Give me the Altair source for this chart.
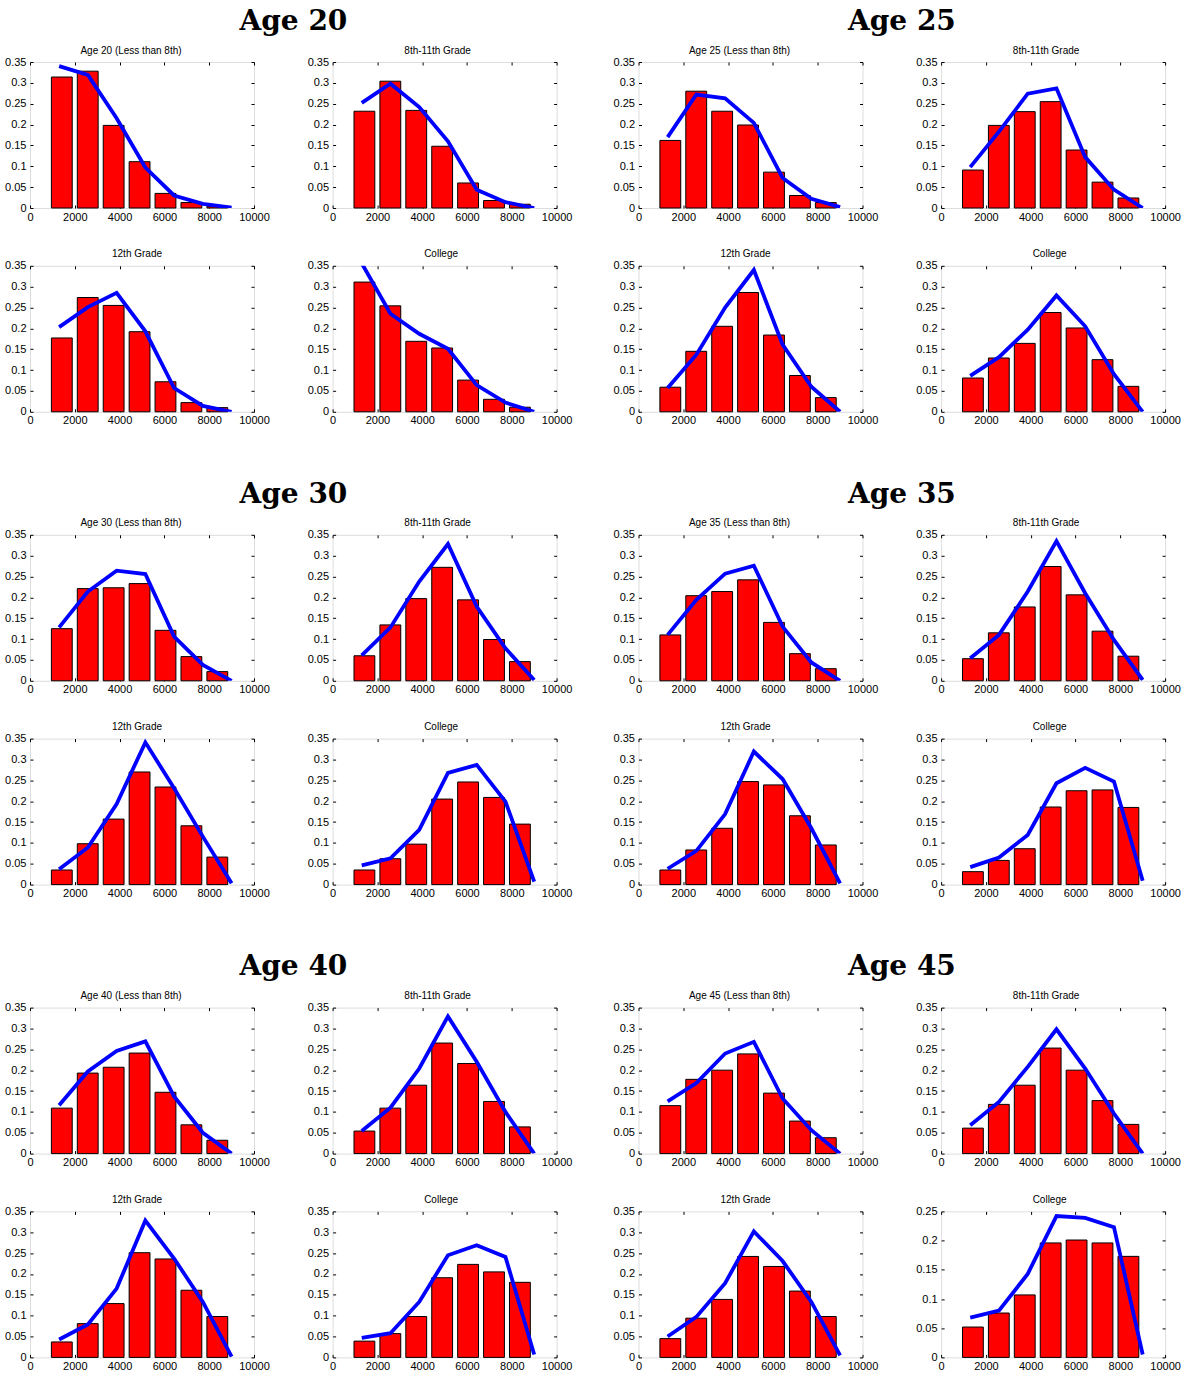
import altair as alt
import pandas as pd

# ---------------- data ----------------
bin_centers = [1420, 2577, 3734, 4891, 6048, 7205, 8362]
line_x = [1300, 2583, 3867, 5150, 6433, 7717, 9000]
x_ticks = [0, 2000, 4000, 6000, 8000, 10000]
y_ticks_main = [0, 0.05, 0.1, 0.15, 0.2, 0.25, 0.3, 0.35]
y_ticks_small = [0, 0.05, 0.1, 0.15, 0.2, 0.25]

ages = [20, 25, 30, 35, 40, 45]
edu_keys = ["lt8", "g811", "g12", "col"]
edu_titles = ["(Less than 8th)", "8th-11th Grade", "12th Grade", "College"]

bars_20_lt8 = [0.314, 0.328, 0.198, 0.111, 0.035, 0.013, 0.004]
line_20_lt8 = [0.340, 0.319, 0.215, 0.097, 0.030, 0.010, 0.001]
bars_20_g811 = [0.232, 0.304, 0.234, 0.148, 0.060, 0.018, 0.009]
line_20_g811 = [0.252, 0.298, 0.242, 0.160, 0.044, 0.014, 0.000]
bars_20_g12 = [0.177, 0.274, 0.255, 0.192, 0.072, 0.022, 0.010]
line_20_g12 = [0.203, 0.251, 0.285, 0.193, 0.057, 0.014, 0.000]
bars_20_col = [0.311, 0.254, 0.169, 0.153, 0.076, 0.030, 0.011]
line_20_col = [0.356, 0.235, 0.187, 0.151, 0.064, 0.022, 0.000]

bars_25_lt8 = [0.162, 0.280, 0.232, 0.199, 0.086, 0.030, 0.013]
line_25_lt8 = [0.170, 0.272, 0.263, 0.204, 0.072, 0.022, 0.002]
bars_25_g811 = [0.091, 0.198, 0.231, 0.255, 0.139, 0.062, 0.024]
line_25_g811 = [0.098, 0.183, 0.274, 0.287, 0.122, 0.044, 0.000]
bars_25_g12 = [0.059, 0.145, 0.205, 0.286, 0.184, 0.087, 0.034]
line_25_g12 = [0.057, 0.137, 0.250, 0.340, 0.161, 0.060, 0.000]
bars_25_col = [0.081, 0.129, 0.164, 0.238, 0.201, 0.125, 0.061]
line_25_col = [0.086, 0.131, 0.197, 0.279, 0.205, 0.090, 0.000]

bars_30_lt8 = [0.125, 0.221, 0.223, 0.233, 0.121, 0.058, 0.022]
line_30_lt8 = [0.128, 0.214, 0.264, 0.256, 0.106, 0.038, 0.000]
bars_30_g811 = [0.060, 0.134, 0.197, 0.272, 0.194, 0.099, 0.046]
line_30_g811 = [0.061, 0.128, 0.238, 0.328, 0.178, 0.078, 0.002]
bars_30_g12 = [0.035, 0.098, 0.157, 0.270, 0.234, 0.141, 0.066]
line_30_g12 = [0.037, 0.089, 0.193, 0.341, 0.231, 0.115, 0.003]
bars_30_col = [0.035, 0.062, 0.097, 0.205, 0.246, 0.209, 0.145]
line_30_col = [0.046, 0.063, 0.131, 0.268, 0.287, 0.199, 0.007]

bars_35_lt8 = [0.110, 0.204, 0.214, 0.242, 0.140, 0.065, 0.029]
line_35_lt8 = [0.110, 0.194, 0.257, 0.276, 0.130, 0.044, 0.000]
bars_35_g811 = [0.053, 0.115, 0.177, 0.274, 0.206, 0.119, 0.059]
line_35_g811 = [0.054, 0.110, 0.214, 0.335, 0.210, 0.098, 0.002]
bars_35_g12 = [0.035, 0.083, 0.135, 0.247, 0.239, 0.165, 0.095]
line_35_g12 = [0.038, 0.081, 0.169, 0.319, 0.253, 0.135, 0.003]
bars_35_col = [0.031, 0.058, 0.086, 0.186, 0.225, 0.227, 0.185]
line_35_col = [0.042, 0.065, 0.119, 0.243, 0.280, 0.247, 0.009]

bars_40_lt8 = [0.109, 0.193, 0.207, 0.241, 0.147, 0.069, 0.032]
line_40_lt8 = [0.116, 0.197, 0.246, 0.269, 0.137, 0.050, 0.000]
bars_40_g811 = [0.054, 0.109, 0.164, 0.265, 0.216, 0.125, 0.064]
line_40_g811 = [0.054, 0.110, 0.204, 0.329, 0.220, 0.100, 0.000]
bars_40_g12 = [0.037, 0.081, 0.129, 0.251, 0.236, 0.161, 0.098]
line_40_g12 = [0.043, 0.079, 0.165, 0.328, 0.237, 0.133, 0.002]
bars_40_col = [0.039, 0.057, 0.098, 0.191, 0.223, 0.205, 0.180]
line_40_col = [0.047, 0.058, 0.133, 0.245, 0.269, 0.241, 0.007]

bars_45_lt8 = [0.115, 0.178, 0.200, 0.239, 0.145, 0.078, 0.038]
line_45_lt8 = [0.125, 0.169, 0.240, 0.268, 0.132, 0.056, 0.000]
bars_45_g811 = [0.061, 0.118, 0.164, 0.253, 0.200, 0.127, 0.070]
line_45_g811 = [0.068, 0.124, 0.208, 0.298, 0.204, 0.096, 0.000]
bars_45_g12 = [0.045, 0.094, 0.139, 0.242, 0.218, 0.159, 0.098]
line_45_g12 = [0.050, 0.097, 0.178, 0.302, 0.231, 0.133, 0.005]
bars_45_col = [0.052, 0.076, 0.107, 0.196, 0.201, 0.196, 0.173]
line_45_col = [0.068, 0.080, 0.143, 0.242, 0.239, 0.223, 0.005]

# ---------------- styling ----------------
FONT = "Liberation Sans"
W, H = 224, 146
BAR_HALF = 465


def panel(title, bars, line, ticks):
    ymax = ticks[-1]
    bdf = pd.DataFrame({
        "lo": [c - BAR_HALF for c in bin_centers],
        "hi": [c + BAR_HALF for c in bin_centers],
        "share": bars,
    })
    ldf = pd.DataFrame({"income": line_x, "share": line})
    xs = alt.Scale(domain=[0, 10000], nice=False, zero=False)
    ys = alt.Scale(domain=[0, ymax], nice=False)
    common = dict(domain=False, grid=False, ticks=True, tickSize=3, tickColor="black",
                  tickWidth=1, offset=-3, title=None, labelFont=FONT, labelFontSize=11,
                  labelColor="black", labelFlush=False, labelOverlap=False)
    bar = alt.Chart(bdf).mark_bar(color="#ff0000", stroke="black", strokeWidth=1).encode(
        x=alt.X("lo:Q", scale=xs,
                axis=alt.Axis(orient="bottom", values=x_ticks, format="d", labelPadding=3,
                              minExtent=0, **common)),
        x2="hi:Q",
        y=alt.Y("share:Q", scale=ys,
                axis=alt.Axis(orient="left", values=ticks, format="~g", labelPadding=4,
                              minExtent=30, maxExtent=30, **common)),
        y2=alt.datum(0),
    )
    ln = alt.Chart(ldf).mark_line(color="#0000ff", strokeWidth=3.8, clip=True).encode(
        x=alt.X("income:Q", scale=xs,
                axis=alt.Axis(orient="top", values=x_ticks, labels=False, minExtent=0,
                              maxExtent=0, **common)),
        y=alt.Y("share:Q", scale=ys,
                axis=alt.Axis(orient="right", values=ticks, labels=False, minExtent=0,
                              maxExtent=0, **common)),
    )
    return alt.layer(bar, ln, title=alt.TitleParams(
        text=title, font=FONT, fontSize=10, fontWeight="normal", color="black",
        anchor="middle", frame="group", baseline="alphabetic", offset=-7.6,
        dx=-0.5 * len(title),
    )).resolve_axis(x="independent", y="independent").properties(width=W, height=H)


def block(age):
    ps = []
    for i, key in enumerate(edu_keys):
        bars = globals()[f"bars_{age}_{key}"]
        line = globals()[f"line_{age}_{key}"]
        t = f"Age {age} {edu_titles[i]}" if i == 0 else edu_titles[i]
        ticks = y_ticks_small if (age == 45 and key == "col") else y_ticks_main
        ps.append(panel(t, bars, line, ticks))
    r1 = alt.hconcat(ps[0], ps[1], spacing=34.6)
    r2 = alt.hconcat(ps[2], ps[3], spacing=34.6)
    return alt.vconcat(r1, r2, spacing=25.8, title=alt.TitleParams(
        text=f"Age {age}", font="DejaVu Serif", fontSize=28, fontWeight="bold",
        color="black", anchor="middle", baseline="alphabetic", offset=-12.7, dx=6,
    ))


rows = []
for k in range(3):
    rows.append(alt.hconcat(block(ages[2 * k]), block(ages[2 * k + 1]), spacing=37.5))

chart = alt.vconcat(*rows, spacing=52.8).properties(
    padding={"left": 2, "top": 7, "right": 0, "bottom": 0}
).configure_view(stroke="black", strokeWidth=1).configure(background="white")

chart.save("out.html", embed_options={"renderer": "svg", "actions": False})
